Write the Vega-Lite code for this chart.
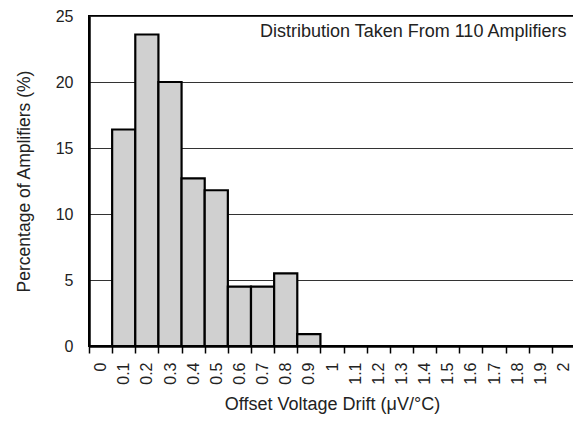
{
  "$schema": "https://vega.github.io/schema/vega-lite/v6.json",
  "width": 486,
  "height": 330,
  "autosize": {"type": "none"},
  "padding": {"left": 89, "top": 16, "right": 0, "bottom": 77},
  "background": "white",
  "config": {
    "font": "Liberation Sans",
    "view": {"stroke": "black", "strokeWidth": 2}
  },
  "datasets": {
    "bins": [
      {"drift": "0", "pct": 0},
      {"drift": "0.1", "pct": 16.4},
      {"drift": "0.2", "pct": 23.6},
      {"drift": "0.3", "pct": 20.0},
      {"drift": "0.4", "pct": 12.7},
      {"drift": "0.5", "pct": 11.8},
      {"drift": "0.6", "pct": 4.5},
      {"drift": "0.7", "pct": 4.5},
      {"drift": "0.8", "pct": 5.5},
      {"drift": "0.9", "pct": 0.9},
      {"drift": "1", "pct": 0},
      {"drift": "1.1", "pct": 0},
      {"drift": "1.2", "pct": 0},
      {"drift": "1.3", "pct": 0},
      {"drift": "1.4", "pct": 0},
      {"drift": "1.5", "pct": 0},
      {"drift": "1.6", "pct": 0},
      {"drift": "1.7", "pct": 0},
      {"drift": "1.8", "pct": 0},
      {"drift": "1.9", "pct": 0},
      {"drift": "2", "pct": 0}
    ],
    "note": [
      {"drift": "2", "pct": 23.8, "label": "Distribution Taken From 110 Amplifiers"}
    ]
  },
  "layer": [
    {
      "data": {"name": "bins"},
      "transform": [{"filter": "datum.pct > 0"}],
      "mark": {"type": "bar", "fill": "#d0d0d0", "stroke": "black", "strokeWidth": 2.2},
      "encoding": {
        "x": {
          "field": "drift",
          "type": "ordinal",
          "scale": {
            "domain": ["0","0.1","0.2","0.3","0.4","0.5","0.6","0.7","0.8","0.9","1","1.1","1.2","1.3","1.4","1.5","1.6","1.7","1.8","1.9","2"],
            "paddingInner": 0,
            "paddingOuter": 0
          },
          "axis": {
            "title": "Offset Voltage Drift (μV/°C)",
            "titleFontSize": 18,
            "titleFontWeight": "normal",
            "titleColor": "#222",
            "titlePadding": 11,
            "labelAngle": -90,
            "labelFontSize": 16,
            "labelColor": "#222",
            "labelPadding": 9,
            "labelBaseline": "middle",
            "tickBand": "extent",
            "tickSize": 7,
            "tickColor": "black",
            "tickWidth": 1.5,
            "domainColor": "black",
            "domainWidth": 2.5,
            "grid": false
          }
        },
        "y": {
          "field": "pct",
          "type": "quantitative",
          "scale": {"domain": [0, 25], "nice": false},
          "axis": {
            "title": "Percentage of Amplifiers (%)",
            "titleFontSize": 17.5,
            "titleFontWeight": "normal",
            "titleColor": "#222",
            "titlePadding": 22,
            "values": [0, 5, 10, 15, 20, 25],
            "labelFontSize": 16,
            "labelColor": "#222",
            "labelPadding": 16,
            "ticks": false,
            "domainColor": "black",
            "domainWidth": 2.5,
            "grid": true,
            "gridColor": "#333",
            "gridWidth": 1
          }
        }
      }
    },
    {
      "data": {"name": "note"},
      "mark": {"type": "text", "align": "right", "baseline": "middle", "fontSize": 18, "color": "#222", "dx": 3},
      "encoding": {
        "x": {"field": "drift", "type": "ordinal"},
        "y": {"field": "pct", "type": "quantitative"},
        "text": {"field": "label"}
      }
    }
  ]
}
